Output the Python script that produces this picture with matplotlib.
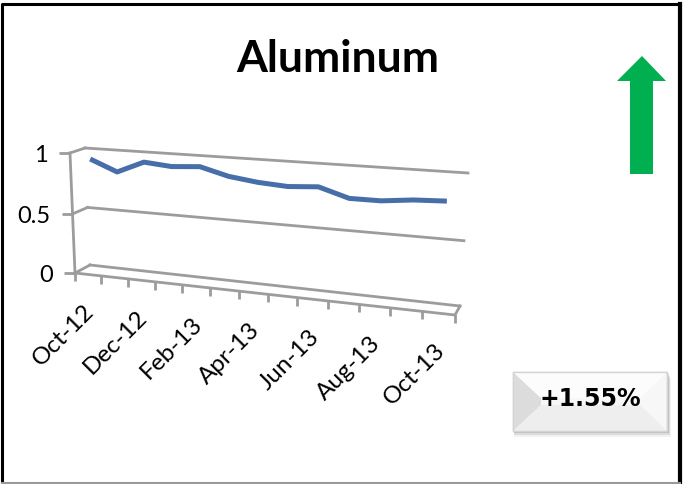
import numpy as np
import matplotlib
matplotlib.use("Agg")
import matplotlib.pyplot as plt
import matplotlib.transforms as mtransforms
from matplotlib.patches import Rectangle, Polygon

months = ["Oct-12", "Nov-12", "Dec-12", "Jan-13", "Feb-13", "Mar-13", "Apr-13",
          "May-13", "Jun-13", "Jul-13", "Aug-13", "Sep-13", "Oct-13"]
aluminum = [0.94, 0.85, 0.945, 0.925, 0.94, 0.88, 0.85, 0.835, 0.85, 0.78, 0.78, 0.805, 0.815]
yticks = [0, 0.5, 1]
ytick_labels = ["0", "0.5", "1"]
title = "Aluminum"
change_label = "+1.55%"

plt.rcParams["font.family"] = ["Lato", "DejaVu Sans"]

GRID = "#9c9c9c"
LINE = "#476ea9"


def homography(src, dst):
    # solve the 3x3 projective map that sends the 4 src corners onto dst
    A, b = [], []
    for (x, y), (u, v) in zip(src, dst):
        A.append([x, y, 1, 0, 0, 0, -u * x, -u * y]); b.append(u)
        A.append([0, 0, 0, x, y, 1, -v * x, -v * y]); b.append(v)
    h = np.linalg.solve(np.array(A, float), np.array(b, float))
    return np.append(h, 1).reshape(3, 3)


class Perspective(mtransforms.Transform):
    input_dims = 2
    output_dims = 2

    def __init__(self, H):
        super().__init__()
        self.H = H

    def transform_non_affine(self, values):
        v = np.asarray(values, float).reshape(-1, 2)
        p = np.column_stack([v, np.ones(len(v))]) @ self.H.T
        return p[:, :2] / p[:, 2:]


fig = plt.figure(figsize=(6.83, 4.85), dpi=100)
ax = fig.add_axes([0, 0, 1, 1])
ax.set_xlim(0, 683)
ax.set_ylim(485, 0)
ax.axis("off")

n = len(months)
lo, hi = -0.5, n - 0.5
box = [(lo, 1), (hi, 1), (lo, 0), (hi, 0)]
back_px = [(85, 149), (468, 174), (90, 266), (460, 307)]
front_px = [(70, 154), (463, 181), (75, 274), (455, 316)]
# the ribbon sits a little behind the middle of the depth
mid_px = [(0.45 * a[0] + 0.55 * c[0], 0.45 * a[1] + 0.55 * c[1]) for a, c in zip(back_px, front_px)]

P_back = Perspective(homography(box, back_px))
P_front = Perspective(homography(box, front_px))
P_mid = Perspective(homography(box, mid_px))
back = P_back + ax.transData
front = P_front + ax.transData
mid = P_mid + ax.transData

# walls: gridlines on back wall plus the side-wall segments
for v in yticks:
    ax.plot([lo, hi], [v, v], transform=back, color=GRID, lw=2)
    pf = P_front.transform([(lo, v)])[0]
    pb = P_back.transform([(lo, v)])[0]
    ax.plot([pf[0], pb[0]], [pf[1], pb[1]], color=GRID, lw=2)

# value axis edge and ticks
ax.plot([lo, lo], [0, 1], transform=front, color=GRID, lw=2)
ax.plot([lo] * len(yticks), yticks, transform=front, ls="none",
        marker=0, ms=8, mew=2, color=GRID)

# floor front edge, right edge and category ticks
ax.plot([lo, hi], [0, 0], transform=front, color=GRID, lw=2)
pf = P_front.transform([(hi, 0)])[0]
pb = P_back.transform([(hi, 0)])[0]
ax.plot([pf[0], pb[0]], [pf[1], pb[1]], color=GRID, lw=2)
ax.plot(np.arange(n + 1) - 0.5, np.zeros(n + 1), transform=front, ls="none",
        marker=3, ms=6, mew=2, color=GRID)

# series
ax.plot(range(n), aluminum, transform=mid, color=LINE, lw=3.6,
        solid_capstyle="butt", solid_joinstyle="round")

# labels
ylab_tr = mtransforms.offset_copy(front, fig=fig, x=-22, y=-2, units="dots")
for v, s in zip(yticks, ytick_labels):
    ax.text(lo, v, s, transform=ylab_tr, ha="right", va="center", fontsize=17)

xlab_tr = mtransforms.offset_copy(front, fig=fig, x=3, y=-33, units="dots")
for i in range(0, n, 2):
    ax.text(i, 0, months[i], transform=xlab_tr, rotation=45, rotation_mode="anchor",
            ha="right", va="center", fontsize=17.5)

ax.text(338, 72, title, ha="center", va="baseline", fontsize=32, fontweight="bold")

# green up arrow
ax.add_patch(Polygon([(630, 175), (630, 82), (617, 82), (642, 57), (666, 82),
                      (653, 82), (653, 175)], closed=True, color="#00b050", lw=0))

# bevelled change box with soft shadow
for k, a in [(6, 0.05), (4, 0.09), (2, 0.14)]:
    ax.add_patch(Rectangle((513 + 1, 373 + k), 154 + k / 2, 59, color="black",
                           alpha=a, lw=0))
ax.add_patch(Rectangle((513, 373), 154, 59, facecolor="#f7f7f7", edgecolor="#d0d0d0", lw=1))
ax.add_patch(Polygon([(513, 373), (541, 399), (541, 406), (513, 432)],
                     closed=True, facecolor="#dcdcdc", lw=0))
ax.add_patch(Polygon([(513, 373), (667, 373), (640, 399), (541, 399)],
                     closed=True, facecolor="#fcfcfc", lw=0))
ax.add_patch(Polygon([(667, 432), (640, 406), (541, 406), (513, 432)],
                     closed=True, facecolor="#eeeeee", lw=0))
ax.add_patch(Rectangle((513, 373), 154, 59, facecolor="none", edgecolor="#d4d4d4", lw=1))
ax.text(590, 399, change_label, ha="center", va="center", fontsize=17,
        fontweight="bold", family="DejaVu Sans")

# outer frame
ax.plot([2, 2, 680], [483, 5, 5], color="black", lw=2.2, solid_capstyle="projecting")
ax.plot([680, 680], [5, 483], color="black", lw=3)
ax.plot([2, 680], [483.5, 483.5], color="#999999", lw=1.5)

fig.savefig("out.png", dpi=100)
